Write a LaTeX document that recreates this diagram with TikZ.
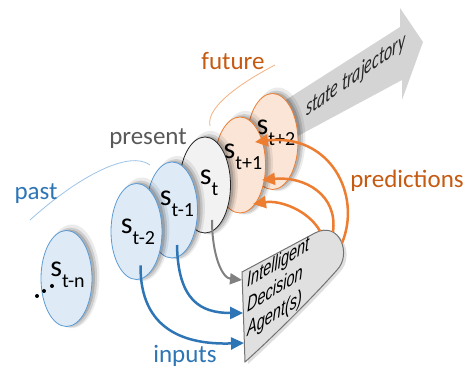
\documentclass[tikz,border=0pt]{standalone}
\usepackage{fontspec}
\setmainfont{Carlito}
\newfontfamily\agentfont{Liberation Sans}
\usetikzlibrary{calc, shapes.geometric, arrows.meta, shadows}
\definecolor{pastblue}{HTML}{2E75B6}
\definecolor{pastfill}{HTML}{DEEBF7}
\definecolor{pastedge}{HTML}{5B9BD5}
\definecolor{pastthin}{HTML}{9DC3E6}
\definecolor{futorange}{HTML}{ED7D31}
\definecolor{futfill}{HTML}{FBE5D6}
\definecolor{futtext}{HTML}{C55A11}
\definecolor{futthin}{HTML}{F4B183}
\definecolor{nowgray}{HTML}{595959}
\newcommand{\stname}[1]{{\fontsize{30}{30}\selectfont s}\raisebox{-11pt}{\fontsize{20}{20}\selectfont #1}}

\begin{document}
\begin{tikzpicture}[x=1pt, y=-1pt,
  softshadow/.style={general shadow={shadow xshift=5pt, shadow yshift=2pt, shadow scale=1.08, fill=black, opacity=.08},
    general shadow={shadow xshift=4pt, shadow yshift=1pt, shadow scale=1.04, fill=black, opacity=.12},
    general shadow={shadow xshift=3pt, shadow yshift=1pt, fill=black, opacity=.15}},
  stateoval/.style={ellipse, draw, minimum width=51pt, minimum height=96pt, inner sep=0pt, line width=0.8pt, softshadow},
  pastoval/.style={stateoval, fill=pastfill, draw=pastedge},
  nowoval/.style={stateoval, fill=black!5, draw=black!85},
  futoval/.style={stateoval, fill=futfill, draw=futorange},
  slabel/.style={inner sep=0pt, text=black},
  tag/.style={font=\fontsize{25}{25}\selectfont, inner sep=0pt, anchor=base},
  inarrow/.style={-{Triangle[length=13pt,width=12pt]}, line width=2.5pt, draw=pastblue},
  outarrow/.style={-{Triangle[length=13pt,width=12pt]}, line width=2.5pt, draw=futorange},
  nowarrow/.style={-{Triangle[length=12pt,width=11pt]}, line width=2pt, draw=black!50}]
\useasboundingbox (0,0) rectangle (467,371);

% state trajectory arrow
\fill[black!17] (270,110) -- (400,27) -- (400,8) -- (423,42) -- (402,100) -- (402,80) -- (270,151) -- cycle;
\node[inner sep=0pt, anchor=base west, yslant=0.7, yscale=1.55, font=\fontsize{16}{16}\selectfont\itshape, text=black!85] (traj) at (306,117) {state trajectory};

% time brackets
\draw[pastthin, line width=0.8pt] (30,220) .. controls (80,175) and (130,150) .. (150,165);
\draw[futthin, line width=0.8pt] (210,126) .. controls (205,105) and (250,78) .. (275,65);

% states
\node[futoval] (stp2) at (272.5,141.5) {};
\node[slabel] (lstp2) at (276,133) {\stname{t+2}};
\node[futoval] (stp1) at (240,165) {};
\node[slabel] (lstp1) at (243,157) {\stname{t+1}};
\node[nowoval] (st) at (205,185) {};
\node[slabel] (lst) at (209,183) {\stname{t}};
\node[pastoval] (stm1) at (172,210) {};
\node[slabel] (lstm1) at (177,204) {\stname{t-1}};
\node[pastoval] (stm2) at (136.5,231.5) {};
\node[slabel] (lstm2) at (138,232) {\stname{t-2}};
\node[pastoval] (stn) at (66.5,278.5) {};
\node[slabel] (lstn) at (67.5,275) {\stname{t-n}};
\fill (37,296) circle (2pt) (44,291) circle (2pt) (52,286) circle (2pt);

\node[tag, text=pastblue] (past) at (36,200) {past};
\node[tag, text=nowgray] (present) at (148,145) {present};
\node[tag, text=futtext] (future) at (233,70) {future};
\node[tag, text=futtext] (predictions) at (407,188) {predictions};
\node[tag, text=pastblue] (inputs) at (185,363) {inputs};

% agent
\coordinate (agtl) at (242,272); \coordinate (agtr) at (315,233); \coordinate (agbl) at (245,362);
\draw[fill=black!12, draw=black!55, line width=1pt, drop shadow={shadow xshift=3pt, shadow yshift=-2pt, opacity=.25}]
  (agtl) -- (agtr) .. controls (340,220) and (352,255) .. (337,270) .. controls (315,295) and (275,335) .. (agbl) -- cycle;
\node[inner sep=0pt, anchor=west, align=left, yslant=0.6, yscale=1.45, font=\agentfont\itshape\fontsize{14.5}{17}\selectfont] (agent) at (247,307) {Intelligent\\Decision\\Agent(s)};
\coordinate (in1) at (242,280); \coordinate (in2) at (243,313); \coordinate (in3) at (244,343);
\coordinate (out1) at (320,231); \coordinate (out2) at (333,232); \coordinate (out3) at (342,243);

% inputs and predictions
\draw[nowarrow] ($(st)+(7,35)$) .. controls (212,255) and (222,278) .. (in1);
\draw[inarrow] ($(stm1)+(5,35)$) .. controls (178,300) and (200,313) .. (in2);
\draw[inarrow] ($(stm2)+(4,34)$) .. controls (140,330) and (185,345) .. (in3);
\draw[outarrow] (out1) .. controls (308,210) and (280,200) .. ($(stp1)+(13,39)$);
\draw[outarrow] (out2) .. controls (338,195) and (305,176) .. ($(stp1)+(22,15)$);
\draw[outarrow] (out3) .. controls (362,195) and (330,133) .. ($(stp1)+(15,-23)$);
\end{tikzpicture}
\end{document}
